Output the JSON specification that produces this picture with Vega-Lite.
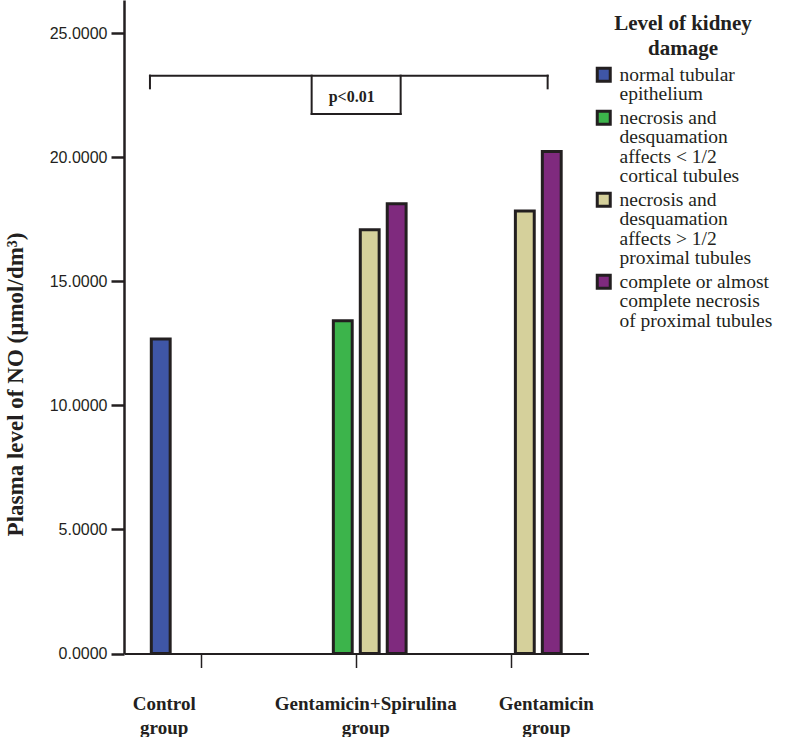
{
  "$schema": "https://vega.github.io/schema/vega-lite/v6.json",
  "width": 464.5,
  "height": 653.5,
  "autosize": {"type": "none"},
  "padding": {"left": 124, "top": 0, "right": 197.5, "bottom": 83.5},
  "background": "white",
  "config": {
    "view": {"stroke": null},
    "axis": {"domainColor": "#231f20", "tickColor": "#231f20", "labelColor": "#231f20", "titleColor": "#231f20", "grid": false},
    "legend": {"labelFont": "Liberation Serif", "titleFont": "Liberation Serif"},
    "style": {"guide-label": {"lineHeight": 19.5}}
  },
  "layer": [
    {
      "data": {
        "values": [
          {"group": "Control group", "damage": "normal tubular epithelium", "no": 12.68},
          {"group": "Gentamicin+Spirulina group", "damage": "necrosis and desquamation affects < 1/2 cortical tubules", "no": 13.41},
          {"group": "Gentamicin+Spirulina group", "damage": "necrosis and desquamation affects > 1/2 proximal tubules", "no": 17.08},
          {"group": "Gentamicin+Spirulina group", "damage": "complete or almost complete necrosis of proximal tubules", "no": 18.13},
          {"group": "Gentamicin group", "damage": "necrosis and desquamation affects > 1/2 proximal tubules", "no": 17.84},
          {"group": "Gentamicin group", "damage": "complete or almost complete necrosis of proximal tubules", "no": 20.23}
        ]
      },
      "mark": {"type": "bar", "stroke": "#231f20", "strokeWidth": 3},
      "encoding": {
        "x": {
          "field": "group", "type": "nominal",
          "sort": ["Control group", "Gentamicin+Spirulina group", "Gentamicin group"],
          "scale": {"domain": ["Control group", "Gentamicin+Spirulina group", "Gentamicin group"], "paddingInner": 0.305, "paddingOuter": 0.15},
          "axis": {
            "title": null,
            "labelAngle": 0,
            "labelFont": "Liberation Serif",
            "labelFontWeight": "bold",
            "labelFontSize": 19,
            "labelLineHeight": 23.5,
            "labelPadding": 27,
            "labelBaseline": "top",
            "labelLimit": 400,
            "labelOverlap": false,
            "labelExpr": "split(datum.label, ' ')",
            "labelOffset": {"condition": [{"test": "datum.value === 'Control group'", "value": -37}, {"test": "datum.value === 'Gentamicin group'", "value": 35}], "value": 9.5},
            "tickSize": 14,
            "tickWidth": 1.5,
            "domainWidth": 2
          }
        },
        "xOffset": {
          "field": "damage", "type": "nominal",
          "scale": {
            "domain": ["normal tubular epithelium", "necrosis and desquamation affects < 1/2 cortical tubules", "necrosis and desquamation affects > 1/2 proximal tubules", "complete or almost complete necrosis of proximal tubules"],
            "paddingInner": 0.3, "paddingOuter": 0.15
          }
        },
        "y": {
          "field": "no", "type": "quantitative",
          "scale": {"domain": [0, 26.34], "nice": false, "zero": true},
          "axis": {
            "title": "Plasma level of NO (µmol/dm³)",
            "titleFont": "Liberation Serif",
            "titleFontWeight": "bold",
            "titleFontSize": 23,
            "titleAngle": 270,
            "titleAlign": "center",
            "titleBaseline": "middle",
            "titleX": -109,
            "titleY": 384,
            "values": [0, 5, 10, 15, 20, 25],
            "labelExpr": "format(datum.value, '.4f')",
            "labelFont": "Liberation Sans",
            "labelFontSize": 16,
            "labelPadding": 4,
            "tickSize": 13,
            "tickWidth": 2.5,
            "domainWidth": 2.5
          }
        },
        "color": {
          "field": "damage", "type": "nominal",
          "scale": {
            "domain": ["normal tubular epithelium", "necrosis and desquamation affects < 1/2 cortical tubules", "necrosis and desquamation affects > 1/2 proximal tubules", "complete or almost complete necrosis of proximal tubules"],
            "range": ["#3f56a6", "#3cb44b", "#d5d09b", "#7f2a7e"]
          },
          "legend": {
            "title": ["Level of kidney", "damage"],
            "orient": "none",
            "legendX": 470,
            "legendY": 13,
            "padding": 0,
            "titleFont": "Liberation Serif",
            "titleFontWeight": "bold",
            "titleFontSize": 21,
            "titleLineHeight": 25,
            "titleAnchor": "middle",
            "titleAlign": "center",
            "titlePadding": 6,
            "titleColor": "#231f20",
            "symbolType": "square",
            "symbolSize": 169,
            "symbolStrokeColor": "#231f20",
            "symbolStrokeWidth": 3,
            "symbolOpacity": 1,
            "labelFont": "Liberation Serif",
            "labelFontSize": 19.5,
            "labelBaseline": "middle",
            "labelColor": "#231f20",
            "labelLimit": 400,
            "labelOffset": 6,
            "rowPadding": 1,
            "labelExpr": "datum.label == 'normal tubular epithelium' ? ['normal tubular', 'epithelium'] : datum.label == 'necrosis and desquamation affects < 1/2 cortical tubules' ? ['necrosis and', 'desquamation', 'affects < 1/2', 'cortical tubules'] : datum.label == 'necrosis and desquamation affects > 1/2 proximal tubules' ? ['necrosis and', 'desquamation', 'affects > 1/2', 'proximal tubules'] : ['complete or almost', 'complete necrosis', 'of proximal tubules']"
          }
        }
      }
    },
    {
      "data": {"values": [{"from": "Control group", "to": "Gentamicin group", "level": 23.29}]},
      "mark": {"type": "rule", "color": "#231f20", "strokeWidth": 2, "strokeCap": "square", "xOffset": -51.2, "x2Offset": 36.3},
      "encoding": {
        "x": {"field": "from", "type": "nominal", "bandPosition": 0.5},
        "x2": {"field": "to", "bandPosition": 0.5},
        "y": {"field": "level", "type": "quantitative"}
      }
    },
    {
      "data": {"values": [{"at": "Control group", "top": 23.29, "bottom": 22.78}]},
      "mark": {"type": "rule", "color": "#231f20", "strokeWidth": 2, "strokeCap": "square", "xOffset": -51.2},
      "encoding": {
        "x": {"field": "at", "type": "nominal", "bandPosition": 0.5},
        "y": {"field": "top", "type": "quantitative"},
        "y2": {"field": "bottom"}
      }
    },
    {
      "data": {"values": [{"at": "Gentamicin group", "top": 23.29, "bottom": 22.78}]},
      "mark": {"type": "rule", "color": "#231f20", "strokeWidth": 2, "strokeCap": "square", "xOffset": 36.3},
      "encoding": {
        "x": {"field": "at", "type": "nominal", "bandPosition": 0.5},
        "y": {"field": "top", "type": "quantitative"},
        "y2": {"field": "bottom"}
      }
    },
    {
      "data": {"values": [{"at": "Gentamicin+Spirulina group", "top": 23.29, "bottom": 21.75}]},
      "mark": {"type": "rule", "color": "#231f20", "strokeWidth": 2, "strokeCap": "square", "xOffset": -44.6},
      "encoding": {
        "x": {"field": "at", "type": "nominal", "bandPosition": 0.5},
        "y": {"field": "top", "type": "quantitative"},
        "y2": {"field": "bottom"}
      }
    },
    {
      "data": {"values": [{"at": "Gentamicin+Spirulina group", "top": 23.29, "bottom": 21.75}]},
      "mark": {"type": "rule", "color": "#231f20", "strokeWidth": 2, "strokeCap": "square", "xOffset": 44.4},
      "encoding": {
        "x": {"field": "at", "type": "nominal", "bandPosition": 0.5},
        "y": {"field": "top", "type": "quantitative"},
        "y2": {"field": "bottom"}
      }
    },
    {
      "data": {"values": [{"at": "Gentamicin+Spirulina group", "level": 21.75}]},
      "mark": {"type": "rule", "color": "#231f20", "strokeWidth": 2, "strokeCap": "square", "xOffset": -44.6, "x2Offset": 44.4},
      "encoding": {
        "x": {"field": "at", "type": "nominal", "bandPosition": 0.5},
        "x2": {"field": "at", "bandPosition": 0.5},
        "y": {"field": "level", "type": "quantitative"}
      }
    },
    {
      "data": {"values": [{"at": "Gentamicin+Spirulina group", "level": 22.24, "label": "p<0.01"}]},
      "mark": {"type": "text", "font": "Liberation Serif", "fontWeight": "bold", "fontSize": 16, "color": "#231f20", "baseline": "alphabetic", "align": "center", "xOffset": -4.6},
      "encoding": {
        "x": {"field": "at", "type": "nominal", "bandPosition": 0.5},
        "y": {"field": "level", "type": "quantitative"},
        "text": {"field": "label"}
      }
    }
  ]
}
